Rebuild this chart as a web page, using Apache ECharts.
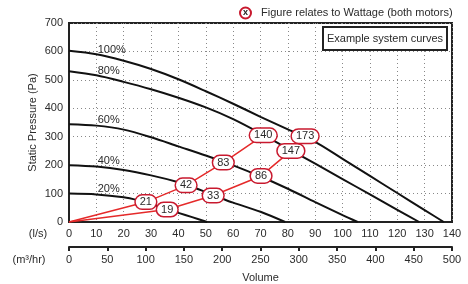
<!DOCTYPE html>
<html>
<head>
<meta charset="utf-8">
<script src="https://cdn.jsdelivr.net/npm/echarts@6/dist/echarts.min.js"></script>
<style>
  html, body { margin: 0; padding: 0; background: #fff; }
  #chart { width: 468px; height: 284px; }
</style>
</head>
<body>
<div id="chart"></div>
<script>
// fan curves [l/s, Pa] at each speed setting
var fan100 = [[0,602],[10,590],[20,567],[30,538],[40,502],[50,460],[60,416],[70,370],[80,326],[90,282],[100,222],[110,162],[120,102],[130,42],[137,0]];
var fan80 = [[0,530],[10,516],[20,493],[30,467],[40,437],[50,403],[60,362],[70,312],[80,258],[90,205],[100,151],[110,97],[120,43],[128,0]];
var fan60 = [[0,344],[10,339],[20,325],[30,298],[40,266],[50,234],[60,199],[70,160],[80,117],[90,70],[100,24],[105.5,0]];
var fan40 = [[0,200],[10,195],[20,183],[30,164],[40,140],[45,124],[50,105],[55,86],[60,68],[70,36],[79,0]];
var fan20 = [[0,100],[10,97],[20,87],[25,77],[30,63],[35,47],[40,32],[45,17],[50.5,0]];

var pctNames = ['100%', '80%', '60%', '40%', '20%'];
var pctPa = [604, 530, 360, 215, 117];
var pctFlow = 10.3;

// example system curves, with wattage at each crossing
var sysUpper = [[0,0],[28.1,70],[42.8,129],[56.4,209],[71,305]];
var sysUpperWatts = [null, 21, 42, 83, 140];
var sysLower = [[0,0],[35.9,44],[52.7,93],[70.2,162],[81.1,250]];
var sysLowerWatts = [null, 19, 33, 86, 147];
var topPoint = [86.3, 302];
var topWatts = 173;

var yTicks = [0, 700, 100];
var lsTicks = [0, 140, 10];
var m3Ticks = [0, 500, 50];

var FONT = 'Liberation Sans';
var TXT = '#2b2b2b';
var RED = '#e52a2a';
var RED_DARK = '#c8192e';

var chart = echarts.init(document.getElementById('chart'), null, {renderer: 'canvas'});

function fanSeries(data) {
    return {
        type: 'line', data: data, smooth: 0.3, symbol: 'none', z: 3,
        lineStyle: {color: '#111', width: 2}, silent: true
    };
}

function wattPoints(pts, watts) {
    var out = [];
    for (var i = 0; i < pts.length; i++) {
        if (watts[i] != null) out.push([pts[i][0], pts[i][1], watts[i]]);
    }
    return out;
}

var pill = {
    show: true, position: 'inside', formatter: function(p) { return p.value[2]; },
    fontFamily: FONT, fontSize: 11, color: TXT, lineHeight: 12, opacity: 1,
    textBorderWidth: 0, textBorderColor: 'transparent',
    backgroundColor: '#fff', borderColor: RED_DARK, borderWidth: 1.5,
    borderRadius: 7, padding: [1, 4, 0, 4]
};

var pctData = [];
for (var i = 0; i < pctNames.length; i++) pctData.push([pctFlow, pctPa[i], pctNames[i]]);

var option = {
    animation: false,
    textStyle: {fontFamily: FONT},
    grid: {left: 69, right: 16, top: 23, bottom: 62, outerBoundsMode: 'none', containLabel: false,
        show: true, borderColor: '#222', borderWidth: 2},
    xAxis: [{
        type: 'value', min: lsTicks[0], max: lsTicks[1], interval: lsTicks[2],
        axisLine: {show: true, lineStyle: {color: '#222', width: 2}},
        axisTick: {show: false},
        axisLabel: {color: TXT, fontSize: 11, fontFamily: FONT, margin: 6},
        splitLine: {show: true, lineStyle: {color: '#888', type: [1, 3], width: 1}}
    }, {
        type: 'value', position: 'bottom', offset: 25,
        min: m3Ticks[0], max: m3Ticks[1], interval: m3Ticks[2],
        axisLine: {show: true, onZero: false, lineStyle: {color: '#222', width: 2}},
        axisTick: {show: true, inside: false, length: 4, lineStyle: {color: '#222', width: 2}},
        axisLabel: {color: TXT, fontSize: 11, fontFamily: FONT, margin: 7},
        splitLine: {show: false},
        name: 'Volume', nameLocation: 'middle', nameGap: 25, nameMoveOverlap: false,
        nameTextStyle: {color: TXT, fontSize: 11, fontFamily: FONT}
    }],
    yAxis: {
        type: 'value', min: yTicks[0], max: yTicks[1], interval: yTicks[2],
        axisLine: {show: true, lineStyle: {color: '#222', width: 2}},
        axisTick: {show: false},
        axisLabel: {color: TXT, fontSize: 11, fontFamily: FONT, margin: 6},
        splitLine: {show: true, lineStyle: {color: '#888', type: [1, 3], width: 1}},
        name: 'Static Pressure (Pa)', nameLocation: 'middle', nameGap: 31, nameMoveOverlap: false,
        nameTextStyle: {color: TXT, fontSize: 11, fontFamily: FONT}
    },
    series: [
        fanSeries(fan100), fanSeries(fan80), fanSeries(fan60), fanSeries(fan40), fanSeries(fan20),
        {
            type: 'scatter', data: pctData, symbolSize: 1, z: 4, silent: true,
            itemStyle: {color: 'rgba(0,0,0,0)'},
            label: {show: true, position: 'right', distance: 0, formatter: function(p) { return p.value[2]; },
                color: TXT, fontSize: 11, fontFamily: FONT, opacity: 1,
                textBorderWidth: 0, textBorderColor: 'transparent'}
        },
        {type: 'line', data: sysUpper, symbol: 'none', z: 5, lineStyle: {color: RED, width: 1.5}, silent: true},
        {type: 'line', data: sysLower, symbol: 'none', z: 5, lineStyle: {color: RED, width: 1.5}, silent: true},
        {
            type: 'scatter', z: 6, silent: true, symbolSize: 1, itemStyle: {color: 'rgba(0,0,0,0)'},
            data: wattPoints(sysUpper, sysUpperWatts).concat(wattPoints(sysLower, sysLowerWatts))
                .concat([[topPoint[0], topPoint[1], topWatts]]),
            label: pill
        }
    ],
    graphic: [
        {type: 'circle', shape: {cx: 245.5, cy: 13, r: 5.5}, style: {fill: '#fff', stroke: RED_DARK, lineWidth: 2}},
        {type: 'text', x: 245.5, y: 12.5, style: {text: 'x', font: 'bold 9px ' + FONT, fill: '#222', align: 'center', verticalAlign: 'middle'}},
        {type: 'text', x: 261, y: 13, style: {text: 'Figure relates to Wattage (both motors)', font: '11px ' + FONT, fill: TXT, verticalAlign: 'middle'}},
        {type: 'rect', z: 10, shape: {x: 323, y: 27, width: 124, height: 23}, style: {fill: '#fff', stroke: '#222', lineWidth: 2}},
        {type: 'text', z: 11, x: 385, y: 38.5, style: {text: 'Example system curves', font: '11px ' + FONT, fill: TXT, align: 'center', verticalAlign: 'middle'}},
        {type: 'text', x: 38, y: 233.5, style: {text: '(l/s)', font: '11px ' + FONT, fill: TXT, align: 'center', verticalAlign: 'middle'}},
        {type: 'text', x: 29, y: 260, style: {text: '(m³/hr)', font: '11px ' + FONT, fill: TXT, align: 'center', verticalAlign: 'middle'}}
    ]
};

chart.setOption(option);
</script>
</body>
</html>
